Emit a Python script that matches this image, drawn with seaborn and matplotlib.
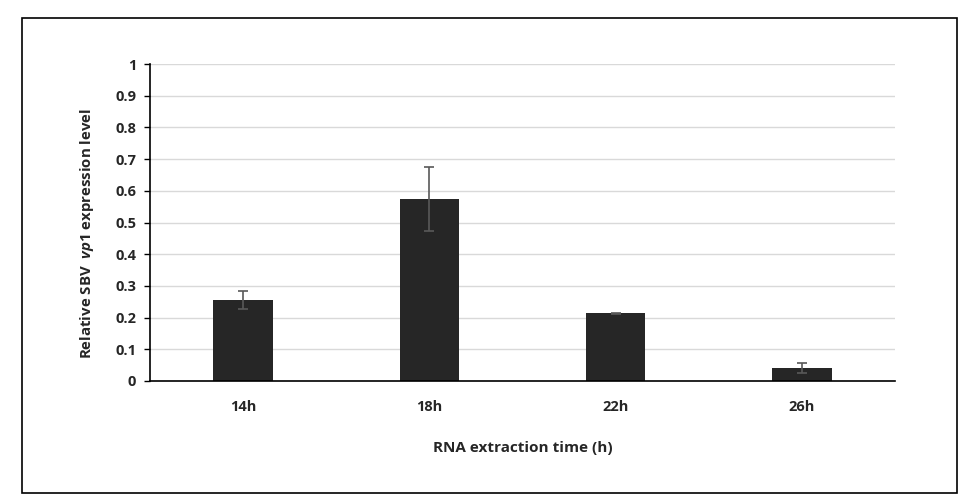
import matplotlib
matplotlib.use("Agg")
import matplotlib.pyplot as plt
import seaborn as sns
from matplotlib.patches import Rectangle

categories = ["14h", "18h", "22h", "26h"]
values = [0.255, 0.574, 0.213, 0.042]
errors = [0.028, 0.100, 0.003, 0.016]
yticks = [0, 0.1, 0.2, 0.3, 0.4, 0.5, 0.6, 0.7, 0.8, 0.9, 1]
ytick_labels = ["0", "0.1", "0.2", "0.3", "0.4", "0.5", "0.6", "0.7", "0.8", "0.9", "1"]

sns.set_theme(style="white")
plt.rcParams["font.family"] = ["Open Sans", "DejaVu Sans"]
plt.rcParams["mathtext.fontset"] = "custom"
plt.rcParams["mathtext.bfit"] = "Open Sans:italic:bold"
plt.rcParams["mathtext.it"] = "Open Sans:italic:bold"
plt.rcParams["mathtext.rm"] = "Open Sans:bold"

fig = plt.figure(figsize=(9.65, 4.96), dpi=100)
ax = fig.add_axes([150/965, 1-381/496, 745/965, 317/496])

sns.barplot(x=categories, y=values, color="#262626", width=0.32, ax=ax,
            saturation=1, edgecolor="none")
ax.errorbar(x=range(len(categories)), y=values, yerr=errors, fmt="none",
            ecolor="#595959", elinewidth=1.2, capsize=3.5, capthick=1.2)

ax.set_ylim(0, 1)
ax.set_xlim(-0.5, len(categories)-0.5)
ax.set_yticks(yticks)
ax.set_yticklabels(ytick_labels, fontsize=10.5, fontweight="bold")
ax.set_xticklabels(categories, fontsize=10.5, fontweight="bold")
ax.yaxis.grid(True, color="#d9d9d9", linewidth=1)
ax.set_axisbelow(True)
for s in ["top", "right"]:
    ax.spines[s].set_visible(False)
ax.spines["left"].set_color("#000000")
ax.spines["bottom"].set_color("#000000")
ax.spines["left"].set_linewidth(1.2)
ax.spines["bottom"].set_linewidth(1.2)
ax.tick_params(axis="y", left=True, length=4, width=1, color="#000000", pad=6)
ax.tick_params(axis="x", bottom=False, pad=8)

ax.set_xlabel("RNA extraction time (h)", fontsize=11, fontweight="bold", labelpad=19)
ax.set_ylabel(r"Relative SBV  $\it{vp1}$ expression level", fontsize=10.8,
              fontweight="bold")
ax.yaxis.set_label_coords(-0.072, 0.465)

fig.patches.append(Rectangle((22/965, 3/496), (957-22)/965, (493-18)/496,
                             transform=fig.transFigure, fill=False,
                             edgecolor="black", linewidth=1.2))

fig.savefig("out.png", dpi=100, facecolor="white")
